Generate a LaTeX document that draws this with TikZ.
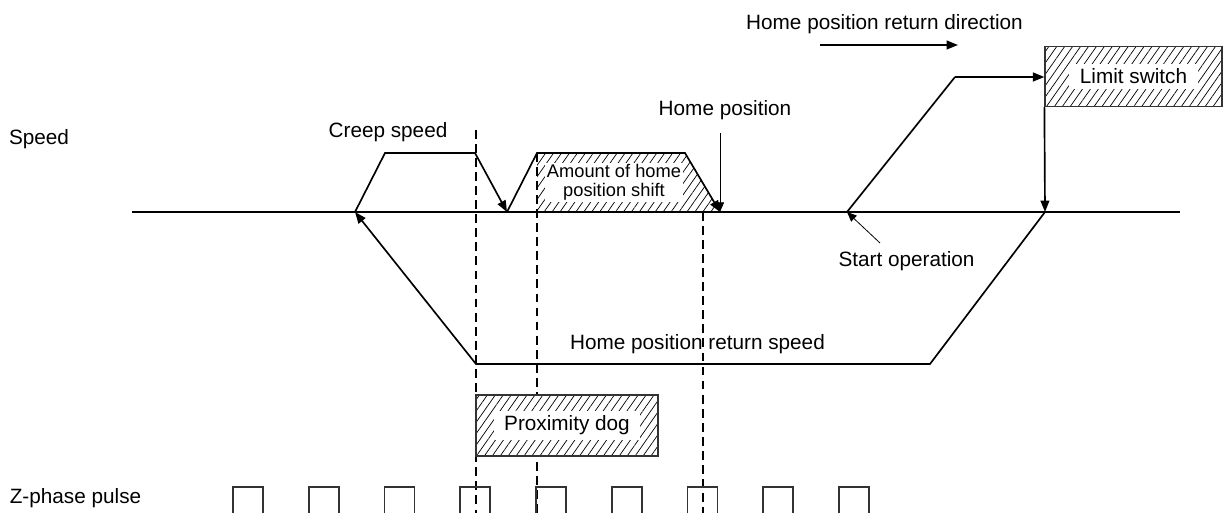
\documentclass[tikz,border=0pt]{standalone}
\usepackage{fontspec}
\setmainfont{Liberation Sans}
\usetikzlibrary{arrows.meta,patterns.meta}
\tikzset{
  lbl/.style={font=\fontsize{11.8}{14}\selectfont, inner sep=0pt, anchor=base},
  boxlbl/.style={font=\fontsize{11.8}{14}\selectfont, fill=white, inner xsep=6pt, inner ysep=3pt},
  shiftlbl/.style={font=\fontsize{10.4}{10.8}\selectfont, align=center, fill=white, inner xsep=1pt, inner ysep=1pt},
  hatch/.style={pattern={Lines[angle=55,distance=3.7pt,line width=0.4pt]}},
  hatchbox/.style={draw=black!80, line width=0.7pt, preaction={fill=white}, hatch, inner sep=0pt},
  axis/.style={line width=1.3pt},
  wave/.style={line width=0.95pt, line join=miter},
  flow/.style={wave, -{Triangle[length=6.5pt,width=5pt]}},
  pointer/.style={line width=0.45pt, -{Triangle[length=5.5pt,width=4.6pt]}},
  guide/.style={line width=0.6pt, dash pattern=on 5pt off 3pt},
  pulse/.style={draw=black!80, line width=0.9pt}
}

\begin{document}
\begin{tikzpicture}[x=0.02cm, y=-0.02cm]
  \useasboundingbox (0,0) rectangle (1232,513);

  \coordinate (ax0) at (132,212);
  \coordinate (ax1) at (1180,212);
  \coordinate (start) at (847,212);
  \coordinate (acc) at (955,77);
  \coordinate (hit) at (1045,212);
  \coordinate (back1) at (930,364);
  \coordinate (back2) at (476,364);
  \coordinate (rev) at (355,212);
  \coordinate (cr1) at (385,153);
  \coordinate (cr2) at (475,153);
  \coordinate (stop1) at (507,212);
  \coordinate (sh1) at (537,153);
  \coordinate (sh2) at (685,153);
  \coordinate (home) at (720,212);

  % shift area
  \fill[hatch] (sh1 |- ax0) -- (sh1) -- (sh2) -- (home) -- cycle;
  \node[shiftlbl] (shift) at (614,182.5) {Amount of home\\position shift};

  % dog edges
  \draw[guide] (476,130) -- (476,513);
  \draw[guide] (sh1) -- (537,513);
  \draw[guide] (703,212) -- (703,513);

  \node[hatchbox, minimum width=3.64cm, minimum height=1.22cm] (dog) at (567,425.5) {};
  \node[boxlbl] (doglbl) at (dog.center) {Proximity dog};
  \node[hatchbox, minimum width=3.54cm, minimum height=1.2cm] (lsw) at (1133.5,76.5) {};
  \node[boxlbl] (lswlbl) at (lsw.center) {Limit switch};

  \draw[axis] (ax0) -- (ax1);

  % speed pattern
  \draw[wave] (start) -- (acc);
  \draw[flow] (acc) -- (acc -| lsw.west);
  \draw[flow] (lsw.south west) -- (hit);
  \draw[flow] (hit) -- (back1) -- (back2) -- (rev);
  \draw[flow] (rev) -- (cr1) -- (cr2) -- (stop1);
  \draw[flow] (stop1) -- (sh1) -- (sh2) -- (home);

  \node[lbl] (speed) at (39,145) {Speed};
  \node[lbl] (creep) at (388,138) {Creep speed};
  \node[lbl] (homelbl) at (725,116) {Home position};
  \node[lbl] (retspd) at (697.5,350) {Home position return speed};
  \node[lbl] (startlbl) at (906.5,267) {Start operation};
  \node[lbl] (dirlbl) at (884.5,30) {Home position return direction};
  \node[lbl] (zlbl) at (75.5,503) {Z-phase pulse};

  \coordinate (dir0) at (820,45);
  \coordinate (dir1) at (958,45);
  \draw[flow] (dir0) -- (dir1);
  \draw[pointer] (720,133) -- (home);
  \draw[pointer] (880,243) -- (start);

  % Z-phase pulses
  \foreach \i in {0,...,8}
    \draw[pulse] ({233+75.75*\i},514) -- ++(0,-27) -- ++(30,0) -- ++(0,27);
\end{tikzpicture}
\end{document}
